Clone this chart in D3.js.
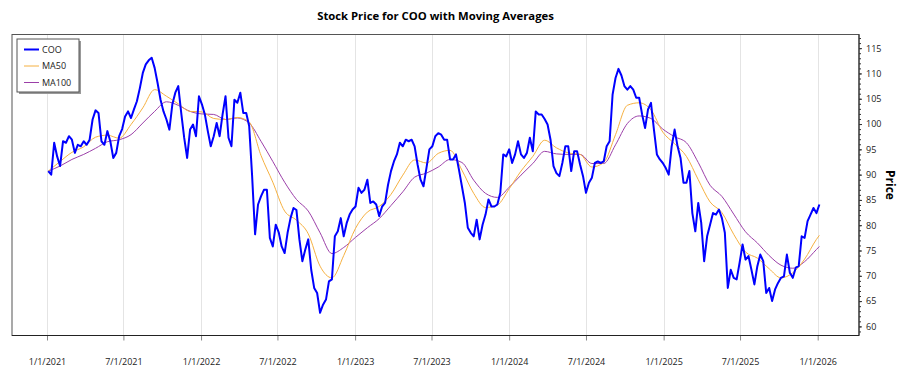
<!DOCTYPE html>
<html>
<head>
<meta charset="utf-8">
<script src="https://cdn.jsdelivr.net/npm/d3@7"></script>
<style>
  body { margin: 0; background: #fff; }
  svg text { font-family: "Open Sans", "Noto Sans", sans-serif; }
</style>
</head>
<body>
<div id="chart"></div>
<script>
// weekly closes, first week starting Mon 2021-01-04
const priceStart = new Date(2021, 0, 4);
const priceValues = [
  90.7, 90.0, 96.3, 93.6, 91.7, 96.6, 96.3, 97.6, 96.9, 94.3,
  95.9, 95.6, 96.6, 95.9, 96.9, 100.9, 102.7, 102.2, 96.6, 95.9,
  98.6, 96.6, 93.3, 94.3, 97.6, 99.0, 101.5, 102.5, 101.2, 102.9,
  104.5, 107.1, 110.1, 111.8, 112.6, 113.1, 111.1, 108.1, 104.8, 102.5,
  100.9, 98.9, 103.9, 106.2, 107.5, 102.2, 97.3, 93.3, 98.9, 99.9,
  97.6, 105.5, 103.9, 101.9, 98.6, 95.6, 97.6, 100.2, 97.6, 101.9,
  105.5, 97.3, 95.6, 104.8, 104.2, 106.2, 102.2, 102.2, 99.6, 89.7,
  78.2, 84.1, 85.7, 87.0, 87.0, 77.5, 75.8, 80.1, 78.6, 75.8,
  74.5, 78.5, 81.4, 83.4, 83.0, 77.2, 72.9, 75.2, 77.2, 71.2,
  67.6, 66.6, 62.7, 64.3, 65.3, 68.9, 69.3, 77.8, 78.8, 81.4,
  77.8, 80.4, 82.1, 83.1, 83.7, 87.4, 86.4, 87.0, 89.0, 84.4,
  84.7, 84.1, 81.8, 83.7, 84.4, 88.0, 90.7, 92.6, 94.0, 96.3,
  95.6, 96.9, 96.6, 96.9, 95.6, 92.0, 89.0, 87.7, 91.3, 95.0,
  95.6, 97.6, 98.2, 97.9, 96.9, 96.9, 93.0, 93.0, 94.0, 91.0,
  87.7, 84.4, 79.5, 78.5, 77.8, 81.1, 77.2, 80.1, 82.1, 85.1,
  83.7, 83.7, 84.1, 86.4, 94.0, 93.6, 95.0, 92.3, 94.0, 96.6,
  94.0, 93.3, 94.3, 97.3, 94.6, 102.5, 101.9, 101.9, 101.0, 99.9,
  96.9, 91.7, 90.3, 89.7, 92.3, 95.6, 95.6, 90.7, 94.6, 94.6,
  92.0, 89.7, 86.4, 88.4, 89.4, 92.3, 92.6, 92.3, 92.6, 95.6,
  96.6, 105.8, 109.1, 110.9, 109.6, 107.5, 106.8, 107.5, 106.8, 105.2,
  105.2, 101.9, 99.2, 102.9, 104.2, 98.9, 94.0, 93.0, 92.3, 91.3,
  90.0, 95.6, 98.9, 95.6, 93.3, 88.4, 88.4, 90.7, 82.4, 78.8,
  84.4, 80.5, 72.9, 77.8, 80.1, 82.4, 82.1, 83.1, 81.4, 78.5,
  67.6, 71.2, 69.6, 69.3, 72.6, 76.2, 73.2, 73.9, 71.2, 68.3,
  71.9, 74.2, 72.9, 66.6, 67.6, 65.0, 67.3, 68.6, 69.6, 69.9,
  74.2, 70.6, 69.6, 71.6, 71.9, 77.8, 77.5, 80.8, 82.1, 83.4,
  82.4, 84.1
];

// moving averages read every 4 weeks (last one on the final week)
const ma50Values = [
  90.7, 92.6, 94.4, 95.5, 97.4, 97.8, 97.2, 99.9, 103.2, 106.8,
  105.5, 104.0, 102.5, 102.4, 101.1, 100.9, 101.3, 100.4, 93.8, 88.5,
  82.8, 81.0, 78.3, 71.9, 69.6, 74.0, 79.4, 82.6, 83.7, 86.1,
  89.9, 92.9, 92.3, 94.2, 94.8, 90.9, 86.3, 83.5, 84.0, 87.2,
  90.7, 93.6, 96.8, 95.3, 94.3, 94.0, 91.5, 92.4, 97.9, 103.7,
  104.2, 102.8, 98.4, 96.1, 93.6, 89.0, 84.6, 82.5, 78.2, 74.7,
  73.5, 71.4, 69.6, 70.6, 73.3, 77.2, 78.0
];
const ma100Values = [
  90.7, 91.7, 93.0, 94.0, 95.2, 96.5, 96.9, 97.9, 100.2, 102.5,
  104.4, 103.7, 102.5, 102.0, 101.9, 100.9, 101.2, 100.2, 96.6, 92.6,
  88.5, 85.1, 82.8, 78.5, 74.4, 75.6, 77.6, 79.5, 81.3, 83.9,
  86.6, 89.5, 90.3, 91.5, 93.0, 92.4, 88.9, 86.3, 85.5, 87.5,
  89.9, 92.2, 94.6, 94.1, 94.0, 94.0, 92.2, 92.2, 95.9, 100.1,
  101.6, 101.1, 99.0, 97.5, 96.3, 92.4, 87.9, 85.7, 82.2, 78.7,
  76.5, 74.0, 72.1, 71.5, 72.8, 75.2, 75.8
];

const yTicks = [60, 65, 70, 75, 80, 85, 90, 95, 100, 105, 110, 115];
const seriesNames = ["COO", "MA50", "MA100"];
const seriesColors = ["#0000ff", "#f5b040", "#9b3fa8"];

const lastWeek = priceValues.length - 1;
const weekDate = w => d3.timeDay.offset(priceStart, 7 * w);
const priceData = priceValues.map((v, i) => ({ date: weekDate(i), value: v }));
const maData = vals => vals.map((v, i) => ({ date: weekDate(Math.min(i * 4, lastWeek)), value: v }));

const svg = d3.select("#chart").append("svg")
  .attr("width", 900)
  .attr("height", 375);

const margin = { top: 34.5, right: 41, bottom: 39.5, left: 12 };
const width = 900 - margin.left - margin.right;
const height = 375 - margin.top - margin.bottom;

svg.append("text")
  .attr("x", margin.left + width / 2)
  .attr("y", 20)
  .attr("text-anchor", "middle")
  .attr("font-size", 11.3)
  .attr("font-weight", "bold")
  .text("Stock Price for COO with Moving Averages");

const g = svg.append("g").attr("transform", `translate(${margin.left},${margin.top})`);

// x scale pinned so 1/1/2021 and 1/1/2026 land where the reference has them
const x = d3.scaleTime()
  .domain([new Date(2021, 0, 1), new Date(2026, 0, 1)])
  .range([35, 805.7]);
const y = d3.scaleLinear().domain([58.2, 117.7]).range([height, 0]);

const xTicks = d3.timeMonth.every(6).range(new Date(2021, 0, 1), new Date(2026, 0, 2));
const fmt = d => `${d.getMonth() + 1}/${d.getDate()}/${d.getFullYear()}`;

// vertical grid
g.append("g")
  .selectAll("line")
  .data(xTicks)
  .enter().append("line")
  .attr("x1", d => Math.round(x(d)) + 0.5)
  .attr("x2", d => Math.round(x(d)) + 0.5)
  .attr("y1", 0)
  .attr("y2", height)
  .attr("stroke", "#e4e4e4");

// bottom axis
const xAxis = g.append("g")
  .attr("transform", `translate(0,${height})`)
  .call(d3.axisBottom(x).tickValues(xTicks).tickFormat(fmt).tickSize(5).tickPadding(18));
xAxis.select(".domain").remove();
xAxis.selectAll(".tick line").attr("stroke", "#888");
xAxis.selectAll("text").attr("font-size", 9).attr("fill", "#222")
  .style("font-family", '"Open Sans", "Noto Sans", sans-serif');

// right axis with minor ticks
const yMinor = g.append("g")
  .attr("transform", `translate(${width},0)`)
  .call(d3.axisRight(y).tickValues(d3.range(59, 118, 1)).tickSize(2).tickFormat(""));
yMinor.select(".domain").remove();
yMinor.selectAll(".tick line").attr("stroke", "#333");

const yAxis = g.append("g")
  .attr("transform", `translate(${width},0)`)
  .call(d3.axisRight(y).tickValues(yTicks).tickSize(3).tickPadding(4));
yAxis.select(".domain").remove();
yAxis.selectAll(".tick line").attr("stroke", "#333");
yAxis.selectAll("text").attr("font-size", 9).attr("fill", "#222")
  .style("font-family", '"Open Sans", "Noto Sans", sans-serif');

svg.append("text")
  .attr("transform", `translate(886,${margin.top + height / 2}) rotate(90)`)
  .attr("text-anchor", "middle")
  .attr("font-size", 12)
  .attr("font-weight", "bold")
  .text("Price");

// plot frame
g.append("rect")
  .attr("x", 0).attr("y", 0)
  .attr("width", width).attr("height", height)
  .attr("fill", "none")
  .attr("stroke", "#555");
g.append("line")
  .attr("x1", 0).attr("x2", width)
  .attr("y1", height).attr("y2", height)
  .attr("stroke", "#222");
g.append("line")
  .attr("x1", width).attr("x2", width)
  .attr("y1", 0).attr("y2", height)
  .attr("stroke", "#222");

g.append("clipPath").attr("id", "clip")
  .append("rect").attr("width", width).attr("height", height);

const plot = g.append("g").attr("clip-path", "url(#clip)");

const priceLine = d3.line().x(d => x(d.date)).y(d => y(d.value));
const smoothLine = d3.line().x(d => x(d.date)).y(d => y(d.value)).curve(d3.curveMonotoneX);

plot.append("path")
  .datum(maData(ma100Values))
  .attr("fill", "none")
  .attr("stroke", seriesColors[2])
  .attr("stroke-width", 1)
  .attr("d", smoothLine);

plot.append("path")
  .datum(maData(ma50Values))
  .attr("fill", "none")
  .attr("stroke", seriesColors[1])
  .attr("stroke-width", 1)
  .attr("d", smoothLine);

plot.append("path")
  .datum(priceData)
  .attr("fill", "none")
  .attr("stroke", seriesColors[0])
  .attr("stroke-width", 2)
  .attr("stroke-linejoin", "round")
  .attr("d", priceLine);

// legend
const legend = g.append("g").attr("transform", "translate(5,4.5)");
legend.append("rect")
  .attr("x", 2).attr("y", 2)
  .attr("width", 62).attr("height", 53)
  .attr("fill", "#999");
legend.append("rect")
  .attr("width", 62).attr("height", 53)
  .attr("fill", "#fff")
  .attr("stroke", "#555");

seriesNames.forEach((name, i) => {
  const row = legend.append("g").attr("transform", `translate(0,${10.5 + i * 16.5})`);
  row.append("line")
    .attr("x1", 7).attr("x2", 22)
    .attr("stroke", seriesColors[i])
    .attr("stroke-width", i === 0 ? 2 : 1);
  row.append("text")
    .attr("x", 25)
    .attr("dy", "0.35em")
    .attr("font-size", 9)
    .attr("fill", "#222")
    .text(name);
});
</script>
</body>
</html>
